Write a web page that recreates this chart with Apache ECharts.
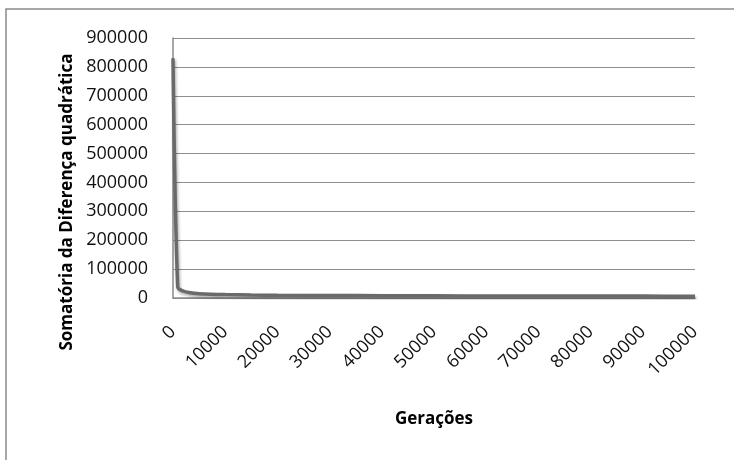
<!DOCTYPE html>
<html>
<head>
<meta charset="utf-8">
<script src="https://cdn.jsdelivr.net/npm/echarts@6/dist/echarts.min.js"></script>
<style>
    html, body { margin: 0; padding: 0; background: #ffffff; }
    #chart { width: 734px; height: 460px; }
</style>
</head>
<body>
<div id="chart"></div>
<script>
// gerações e somatória da diferença quadrática
var geracoes = [0, 900, 1800, 3300, 5000, 10000, 15000, 20000, 30000, 40000, 50000, 60000, 70000, 80000, 90000, 100000];
var somatoria = [830000, 38000, 25000, 18000, 15000, 12000, 10500, 9500, 8500, 8000, 7500, 7000, 7000, 6500, 6500, 6000];
var xTicks = [0, 10000, 20000, 30000, 40000, 50000, 60000, 70000, 80000, 90000, 100000];
var yTicks = [0, 100000, 200000, 300000, 400000, 500000, 600000, 700000, 800000, 900000];

var seriesData = geracoes.map(function (g, i) {
    return [g, somatoria[i]];
});

var chart = echarts.init(document.getElementById('chart'));
chart.setOption({
    backgroundColor: '#ffffff',
    animation: false,
    textStyle: {
        fontFamily: 'Open Sans'
    },
    graphic: [{
        type: 'rect',
        shape: { x: 6, y: 9, width: 760, height: 480 },
        style: { fill: null, stroke: '#8a8a8a', lineWidth: 1.5 }
    }],
    grid: {
        left: 173,
        right: 39,
        top: 38,
        bottom: 162,
        outerBoundsMode: 'none'
    },
    xAxis: {
        type: 'value',
        min: xTicks[0],
        max: xTicks[xTicks.length - 1],
        interval: xTicks[1] - xTicks[0],
        name: 'Gerações',
        nameLocation: 'middle',
        nameGap: 113,
        nameTextStyle: {
            color: '#000',
            fontSize: 17,
            fontWeight: 'bold'
        },
        splitLine: { show: false },
        axisTick: { show: false },
        axisLine: {
            lineStyle: { color: '#8a8a8a', width: 1.5 }
        },
        axisLabel: {
            rotate: 45,
            margin: 31,
            fontSize: 18,
            color: '#111',
            formatter: function (v) { return String(v); }
        }
    },
    yAxis: {
        type: 'value',
        min: yTicks[0],
        max: yTicks[yTicks.length - 1],
        interval: yTicks[1] - yTicks[0],
        name: 'Somatória da Diferença quadrática',
        nameLocation: 'middle',
        nameGap: 97,
        nameTextStyle: {
            color: '#000',
            fontSize: 17,
            fontWeight: 'bold',
            padding: [0, 68, 0, 0]
        },
        splitLine: {
            lineStyle: { color: '#8e8e8e', width: 1.2 }
        },
        axisTick: { show: false },
        axisLine: {
            show: true,
            lineStyle: { color: '#8a8a8a', width: 1.5 }
        },
        axisLabel: {
            margin: 25,
            fontSize: 18,
            color: '#111',
            formatter: function (v) { return String(v); }
        }
    },
    series: [{
        type: 'line',
        data: seriesData,
        symbol: 'none',
        smooth: 0.3,
        lineStyle: {
            color: '#6a6a6a',
            width: 3.5,
            shadowColor: 'rgba(0, 0, 0, 0.35)',
            shadowBlur: 3,
            shadowOffsetX: 1,
            shadowOffsetY: 2
        }
    }]
});
</script>
</body>
</html>
